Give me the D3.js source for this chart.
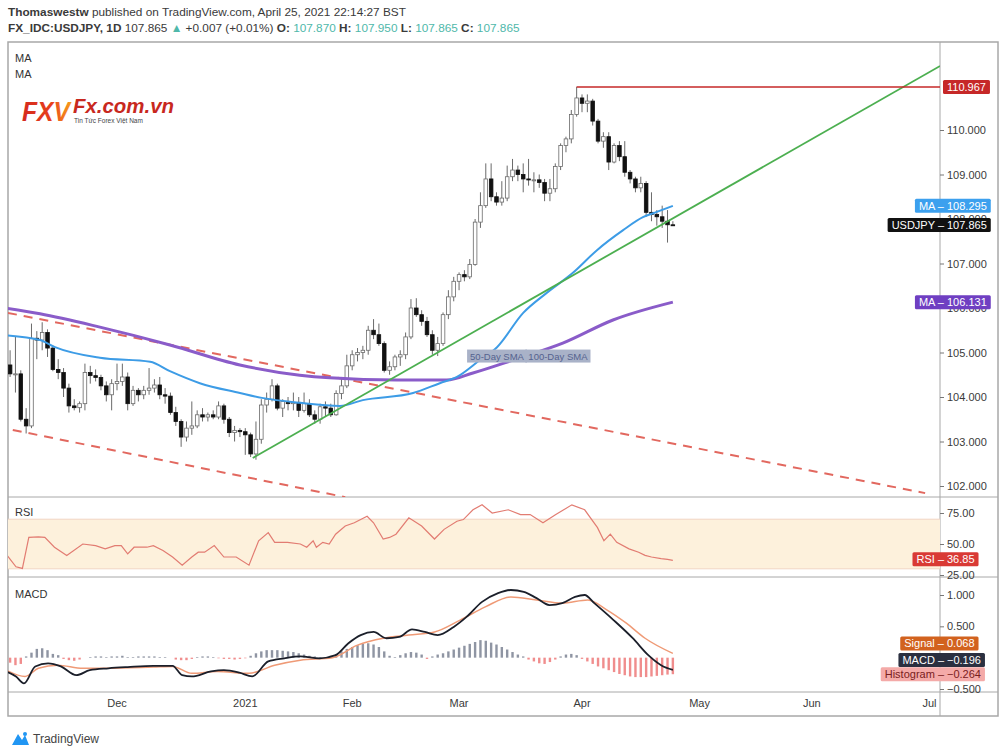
<!DOCTYPE html>
<html><head><meta charset="utf-8">
<script src="https://cdnjs.cloudflare.com/ajax/libs/d3/7.8.5/d3.min.js"></script>
<style>body{margin:0;background:#fff}svg{display:block}text{font-family:"Liberation Sans",Arial,sans-serif}</style>
</head><body><svg id="c" width="1000" height="754"></svg>
<script>
// ---------------- DATA ----------------
const opens=[104.70,104.72,104.52,104.52,103.50,103.35,105.32,105.28,105.45,105.10,104.62,104.55,104.20,103.80,103.76,103.85,104.55,104.48,104.44,104.25,104.05,104.30,104.35,104.45,103.85,104.15,104.05,104.15,104.20,104.27,104.05,104.02,103.65,103.45,103.10,103.30,103.35,103.60,103.55,103.60,103.55,103.80,103.50,103.20,103.25,103.22,103.15,102.72,103.05,103.82,103.95,104.25,103.75,103.90,103.85,103.88,103.70,103.85,103.60,103.50,103.78,103.75,103.60,104.08,104.25,104.70,104.95,105.00,105.05,105.50,105.40,105.20,104.60,104.68,104.90,104.95,105.35,106.00,105.85,105.70,105.40,105.05,105.20,105.85,106.25,106.60,106.75,106.70,106.98,107.93,108.30,108.90,108.50,108.38,108.47,108.95,109.10,109.00,108.90,108.88,108.88,108.82,108.58,108.68,109.18,109.65,109.80,110.35,110.72,110.60,110.65,110.20,109.75,109.85,109.28,109.65,109.40,109.05,108.90,108.70,108.80,108.15,108.10,108.05,107.95,107.870];
const highs=[104.95,105.05,105.35,104.60,103.75,105.65,105.48,105.68,105.52,105.15,104.85,104.65,104.30,103.95,103.90,104.75,104.70,104.62,104.50,104.35,104.40,104.75,104.75,104.55,104.25,104.20,104.25,104.65,104.40,104.45,104.20,104.10,103.78,103.50,103.45,103.90,103.70,103.75,103.65,103.70,103.90,103.85,103.55,103.35,103.30,103.30,103.20,103.45,103.95,104.10,104.40,104.30,103.95,104.00,104.10,104.00,104.10,103.95,103.70,103.85,103.90,103.85,104.15,104.45,104.95,105.05,105.10,105.15,105.60,105.75,105.65,105.25,104.80,104.95,105.05,105.45,106.20,106.22,105.95,105.80,105.50,105.35,105.90,106.40,106.70,106.80,106.85,107.10,108.00,108.60,109.25,109.25,108.60,108.85,109.20,109.35,109.20,109.25,109.35,109.05,109.00,108.90,108.90,109.25,109.70,109.85,110.45,110.97,110.80,110.80,110.70,110.25,109.95,109.95,109.70,109.75,109.75,109.10,108.95,108.95,108.85,108.60,108.20,108.30,108.20,107.950];
const lows=[104.45,104.45,104.10,103.45,103.18,103.30,104.85,105.05,104.90,104.58,104.40,104.00,103.65,103.70,103.65,103.70,104.30,104.35,104.15,103.90,103.70,104.15,104.25,103.70,103.80,103.90,103.95,104.05,104.10,103.95,103.85,103.60,103.35,102.88,103.00,103.15,103.30,103.45,103.45,103.50,103.50,103.40,103.10,103.00,103.10,102.70,102.65,102.59,102.95,103.65,103.90,103.70,103.55,103.70,103.70,103.55,103.65,103.55,103.40,103.40,103.55,103.55,103.58,103.95,104.20,104.60,104.80,104.85,104.95,105.30,105.15,104.55,104.50,104.60,104.70,104.85,105.30,105.80,105.60,105.35,104.95,104.92,105.15,105.75,106.15,106.40,106.60,106.65,106.95,107.80,108.25,108.40,108.30,108.30,108.40,108.85,108.85,108.60,108.75,108.60,108.70,108.40,108.40,108.60,109.10,109.50,109.70,110.30,110.40,110.40,110.10,109.70,109.60,109.10,109.25,109.30,108.95,108.80,108.60,108.60,108.05,107.95,107.85,107.80,107.47,107.865];
const closes=[104.72,104.52,104.52,103.50,103.35,105.32,105.28,105.45,105.10,104.62,104.55,104.20,103.80,103.76,103.85,104.55,104.48,104.44,104.25,104.05,104.30,104.35,104.45,103.85,104.15,104.05,104.15,104.20,104.27,104.05,104.02,103.65,103.45,103.10,103.30,103.35,103.60,103.55,103.60,103.55,103.80,103.50,103.20,103.25,103.22,103.15,102.72,103.05,103.82,103.95,104.25,103.75,103.90,103.85,103.88,103.70,103.85,103.60,103.50,103.78,103.75,103.60,104.08,104.25,104.70,104.95,105.00,105.05,105.50,105.40,105.20,104.60,104.68,104.90,104.95,105.35,106.00,105.85,105.70,105.40,105.05,105.20,105.85,106.25,106.60,106.75,106.70,106.98,107.93,108.30,108.90,108.50,108.38,108.47,108.95,109.10,109.00,108.90,108.88,108.88,108.82,108.58,108.68,109.18,109.65,109.80,110.35,110.72,110.60,110.65,110.20,109.75,109.85,109.28,109.65,109.40,109.05,108.90,108.70,108.80,108.15,108.10,108.05,107.95,107.87,107.865];

// 50-day SMA (blue) and 100-day SMA (purple), read at bar indices
const sma50Idx=[0,6.6,9.4,17.8,27.2,30.9,36.5,44,48.1,55.2,62.7,67,76.4,81.4,84.6,88.9,92.1,97,101.4,106.3,110.8,115.7,119.4,122,125];
const sma50Val=[105.39,105.28,105.12,104.88,104.79,104.58,104.31,104.09,103.98,103.87,103.80,103.93,104.09,104.31,104.45,104.83,105.12,105.89,106.34,106.79,107.30,107.75,108.04,108.16,108.295];
const sma100Idx=[0,6.6,17.8,30.9,44,55.2,60.8,73.4,82.7,87.6,95.1,104.4,113.8,125];
const sma100Val=[106.0,105.87,105.57,105.17,104.72,104.49,104.43,104.38,104.38,104.54,104.83,105.21,105.73,106.131];

// RSI (14), read at bar indices
const rsiIdx=[0.2,2.1,3.3,4.5,6.3,7.5,9.3,11.6,14.6,17,18.8,20.6,21.8,23,24.2,26.6,27.8,29.6,31.4,33.2,35,36.2,37.4,39.2,41,43.3,45.7,47.5,49.3,50.5,52.9,55.3,56.5,57.7,58.3,59.5,60.7,61.9,63.7,65.4,67.8,69,70.8,72,73.2,75.6,78,80.4,82.2,84.6,85.8,87.6,89.3,91.2,94.2,96.5,98.3,100.7,103.1,106.1,108.5,110.9,112.1,113.3,114.5,116.8,118.6,119.8,121,122.8,124,125];
const rsiVal=[42.1,31.6,30.3,55.3,55.8,55.3,47.4,40.8,50,48.7,46.1,48.7,48.7,42.1,47.4,47.4,48.7,44.7,39.5,32.9,39.5,43.4,43.4,48.7,39.5,39.5,32.9,52.6,59.2,51.3,51.3,50,47.4,52.6,47.4,51.3,50,57.9,64.5,67.1,72.4,67.1,54,55.3,57.9,71.1,64.5,54,61.8,68.4,69.7,77.6,81.6,75,77.6,73.7,73.7,67.1,73.7,81.6,77.6,63.2,52.6,57.9,51.3,46.1,43.4,40.8,39.5,38.2,37.6,36.85];

// MACD (12,26,9)
const macdIdx=[0.3,2.1,3.6,5.7,8.1,10.5,13.4,15.9,19.4,23,27.8,31.4,33.2,35,38.6,41,43.9,46.3,49.3,52.3,55.3,58.9,61.9,64.3,66.6,69,71.4,73.8,76.2,78.6,81,84,86.4,89.3,92.3,94.7,97.1,99.5,101.9,104.3,106.7,108.5,110.3,113.9,117.5,120.4,122.8,125];
const macdVal=[-0.22,-0.30,-0.41,-0.14,-0.09,-0.14,-0.28,-0.20,-0.17,-0.15,-0.13,-0.13,-0.28,-0.30,-0.22,-0.20,-0.24,-0.30,-0.06,-0.01,0.02,-0.01,0.04,0.23,0.36,0.41,0.31,0.33,0.45,0.41,0.36,0.49,0.65,0.89,1.03,1.08,1.05,0.95,0.84,0.87,0.97,1.00,0.87,0.60,0.31,0.04,-0.12,-0.196];
const signalIdx=[0.3,3.8,6.3,9.9,14.6,19.4,27.8,31.4,35,39.7,45.7,50.5,55.3,61.3,66,70.8,75.6,80.4,85.2,89.9,94.7,99.5,104.3,109.1,112.7,116.3,119.8,125];
const signalVal=[-0.20,-0.30,-0.17,-0.12,-0.17,-0.17,-0.15,-0.14,-0.25,-0.22,-0.25,-0.12,-0.04,0.00,0.20,0.31,0.36,0.41,0.60,0.81,0.97,0.92,0.87,0.92,0.76,0.55,0.31,0.068];
const histVal=[-0.03,-0.08,-0.12,-0.10,0.02,0.08,0.14,0.15,0.12,0.06,0.04,-0.02,-0.04,-0.05,-0.03,0.00,0.01,0.02,0.02,0.01,0.02,0.02,0.03,0.01,0.01,0.02,0.02,0.02,0.02,0.01,0.01,0.00,-0.03,-0.04,-0.04,-0.02,0.01,0.02,0.02,0.01,-0.01,-0.02,-0.02,-0.03,-0.02,-0.01,0.03,0.07,0.10,0.12,0.12,0.12,0.11,0.10,0.09,0.07,0.05,0.03,0.02,0.01,0.01,0.03,0.06,0.10,0.14,0.17,0.20,0.22,0.23,0.21,0.17,0.10,0.03,0.01,0.04,0.07,0.09,0.08,0.05,-0.02,0.02,0.05,0.07,0.10,0.13,0.16,0.19,0.22,0.25,0.28,0.27,0.24,0.21,0.17,0.13,0.09,0.05,0.02,-0.03,-0.06,-0.09,-0.10,-0.07,-0.03,0.02,0.05,0.06,0.04,-0.02,-0.06,-0.10,-0.14,-0.17,-0.20,-0.23,-0.26,-0.28,-0.30,-0.31,-0.31,-0.31,-0.30,-0.29,-0.28,-0.27,-0.264];

// Drawn trend lines: [bar index, price]
const channelUpper=[[0.6,105.89],[172.2,101.84]];
const channelLower=[[1.5,103.26],[63.7,101.75]];
const supportLine=[[46.4,102.63],[175,111.44]];
const highLevel=110.967, highIdx=107;

const priceTicks=[102,103,104,105,106,107,108,109,110];
const rsiTicks=[25,50,75];
const macdTicks=[-0.5,0.5,1.0];
const monthLabels=["Dec","2021","Feb","Mar","Apr","May","Jun","Jul"];
const monthDates=["2020-12-01","2021-01-04","2021-02-01","2021-03-01","2021-04-01","2021-05-03","2021-06-01","2021-07-01"];
const smaNotes=["50-Day SMA","100-Day SMA"];
const smaNoteIdx=[86.5,97.4];
const smaNotePrice=[104.92,104.92];
const lastPrice=107.865, lastSma50=108.295, lastSma100=106.131, lastRsi=36.85, lastSignal=0.068, lastMacd=-0.196, lastHist=-0.264;

// ---------------- LAYOUT ----------------
const svg=d3.select("#c");
svg.append("rect").attr("width",1000).attr("height",754).attr("fill","#fff");
const L=8, R=940, RE=998, T=42, mainB=497, rsiB=577, macdB=692, axB=716;

// weekday bar calendar
const dates=[];
for(let t=Date.UTC(2020,10,2); t<=Date.UTC(2021,6,30); t+=864e5){const d=new Date(t);const w=d.getUTCDay();if(w>0&&w<6)dates.push(d.toISOString().slice(0,10));}

const x=d3.scaleLinear().domain([21,108]).range([117,582]);
const y=d3.scaleLinear().domain([102,110]).range([486,130]);
const yR=d3.scaleLinear().domain([25,75]).range([575,513]);
const yM=d3.scaleLinear().domain([-0.5,1]).range([689,595]);

const defs=svg.append("defs");
[["cMain",T,mainB],["cRsi",mainB,rsiB],["cMacd",rsiB,macdB]].forEach(([id,a,b])=>{
  defs.append("clipPath").attr("id",id).append("rect").attr("x",L).attr("y",a).attr("width",R-L).attr("height",b-a);
});
const grad=defs.append("linearGradient").attr("id","lg").attr("x1","0").attr("x2","1");
grad.append("stop").attr("offset","0").attr("stop-color","#d42a1e");
grad.append("stop").attr("offset","0.6").attr("stop-color","#e8401c");
grad.append("stop").attr("offset","1").attr("stop-color","#f7a21b");

// header
const h1=svg.append("text").attr("x",8).attr("y",16).attr("font-size",11.8).attr("fill","#3a3a3a");
h1.append("tspan").attr("font-weight","bold").text("Thomaswestw");
h1.append("tspan").text(" published on TradingView.com, April 25, 2021 22:14:27 BST");
const teal="#4fb8aa";
const h2=svg.append("text").attr("x",8).attr("y",32).attr("font-size",11.8).attr("fill","#3a3a3a");
h2.append("tspan").attr("font-weight","bold").text("FX_IDC:USDJPY, 1D");
h2.append("tspan").text(" 107.865 ");
h2.append("tspan").attr("fill",teal).text("▲");
h2.append("tspan").text(" +0.007 (+0.01%) ");
[["O:","107.870"],["H:","107.950"],["L:","107.865"],["C:","107.865"]].forEach(([k,v],i)=>{
  h2.append("tspan").attr("font-weight","bold").text((i?" ":"")+k+" ");
  h2.append("tspan").attr("fill",teal).text(v);
});

// frame & separators
const frame=svg.append("g").attr("stroke","#a8a8a8").attr("fill","none");
frame.append("rect").attr("x",L).attr("y",T).attr("width",RE-L).attr("height",axB-T).attr("stroke-width",1.5);
frame.append("line").attr("x1",R).attr("x2",R).attr("y1",T).attr("y2",axB);
[mainB,rsiB,macdB].forEach(v=>frame.append("line").attr("x1",L).attr("x2",RE).attr("y1",v).attr("y2",v));

// ---------------- MAIN PANE ----------------
const gMain=svg.append("g").attr("clip-path","url(#cMain)");
const seg=d3.line().x(d=>x(d[0])).y(d=>y(d[1]));
gMain.append("path").attr("d",seg(channelUpper)).attr("stroke","#e2685f").attr("stroke-width",2).attr("stroke-dasharray","9,7").attr("fill","none");
gMain.append("path").attr("d",seg(channelLower)).attr("stroke","#e2685f").attr("stroke-width",2).attr("stroke-dasharray","9,7").attr("fill","none");

const bars=d3.range(opens.length).map(i=>({i,o:opens[i],h:highs[i],l:lows[i],c:closes[i]}));
const gc=gMain.append("g");
gc.selectAll("line").data(bars).join("line")
  .attr("x1",d=>x(d.i)).attr("x2",d=>x(d.i)).attr("y1",d=>y(d.h)).attr("y2",d=>y(d.l))
  .attr("stroke","#6a6a6a").attr("stroke-width",1);
gc.selectAll("rect").data(bars).join("rect")
  .attr("x",d=>x(d.i)-1.8).attr("width",3.6)
  .attr("y",d=>y(Math.max(d.o,d.c))).attr("height",d=>Math.max(1,Math.abs(y(d.o)-y(d.c))))
  .attr("fill",d=>d.c>=d.o?"#fff":"#111").attr("stroke",d=>d.c>=d.o?"#6a6a6a":"#111").attr("stroke-width",0.8);

const maLine=d3.line().x(d=>x(d[0])).y(d=>y(d[1])).curve(d3.curveMonotoneX);
gMain.append("path").attr("d",maLine(d3.zip(sma100Idx,sma100Val))).attr("stroke","#8a5cc9").attr("stroke-width",3).attr("fill","none");
gMain.append("path").attr("d",maLine(d3.zip(sma50Idx,sma50Val))).attr("stroke","#3d9ce6").attr("stroke-width",2).attr("fill","none");
gMain.append("path").attr("d",seg(supportLine)).attr("stroke","#4caf50").attr("stroke-width",1.8).attr("fill","none");
gMain.append("line").attr("x1",x(highIdx)).attr("x2",R).attr("y1",y(highLevel)).attr("y2",y(highLevel)).attr("stroke","#c62828").attr("stroke-width",1.6);

// SMA notes
smaNotes.forEach((t,k)=>{
  const g=svg.append("g");
  const tx=g.append("text").attr("x",x(smaNoteIdx[k])+3).attr("y",y(smaNotePrice[k])+3.5).attr("font-size",9.5).attr("fill","#55628f").text(t);
  const w=tx.node().getComputedTextLength();
  g.insert("rect","text").attr("x",x(smaNoteIdx[k])).attr("y",y(smaNotePrice[k])-6.5).attr("width",w+6).attr("height",13).attr("fill","#a9b2c8");
});

// logo
svg.append("text").attr("x",22).attr("y",121).attr("font-family","DejaVu Sans").attr("font-weight","bold").attr("font-style","italic")
  .attr("font-size",27).attr("textLength",48).attr("lengthAdjust","spacingAndGlyphs").attr("fill","url(#lg)").text("FXV");
svg.append("text").attr("x",73).attr("y",113).attr("font-family","DejaVu Sans").attr("font-weight","bold").attr("font-style","italic")
  .attr("font-size",20).attr("textLength",101).attr("lengthAdjust","spacingAndGlyphs").attr("fill","#c8281e").text("Fx.com.vn");
svg.append("text").attr("x",74).attr("y",123).attr("font-size",6.5).attr("fill","#444").text("Tin Tức Forex Việt Nam");

// top labels
svg.append("text").attr("x",15).attr("y",62).attr("font-size",11).attr("fill","#333").text("MA");
svg.append("text").attr("x",15).attr("y",78).attr("font-size",11).attr("fill","#333").text("MA");

// price axis
const axStyle=g=>{g.select(".domain").remove();g.selectAll(".tick line").attr("stroke","#777");g.selectAll(".tick text").attr("fill","#3a3a3a").attr("font-size",11).attr("font-family","Liberation Sans, Arial, sans-serif");};
svg.append("g").attr("transform",`translate(${R},0)`).call(d3.axisRight(y).tickValues(priceTicks).tickSize(4).tickPadding(3).tickFormat(d3.format(".3f"))).call(axStyle);
svg.append("g").attr("transform",`translate(${R},0)`).call(d3.axisRight(yR).tickValues(rsiTicks).tickSize(4).tickPadding(3).tickFormat(d3.format(".2f"))).call(axStyle);
svg.append("g").attr("transform",`translate(${R},0)`).call(d3.axisRight(yM).tickValues(macdTicks).tickSize(4).tickPadding(3).tickFormat(d=>d3.format(".3f")(d).replace("-","−"))).call(axStyle);

// value tags
function tag(yc,name,val,fill,fg){
  const g=svg.append("g");
  const vt=g.append("text").attr("x",947).attr("y",yc+4).attr("font-size",11).attr("fill",fg).text(val);
  const vw=vt.node().getComputedTextLength();
  let left=943;
  if(name){const nt=g.append("text").attr("x",944).attr("y",yc+4).attr("text-anchor","end").attr("font-size",11).attr("fill",fg).text(name+" – ");left=944-nt.node().getComputedTextLength()-4;}
  g.insert("rect","text").attr("x",left).attr("y",yc-7).attr("width",947+vw+4-left).attr("height",14).attr("rx",1.5).attr("fill",fill);
}
tag(y(highLevel),"",d3.format(".3f")(highLevel),"#c62828","#fff");
tag(y(lastSma50),"MA",d3.format(".3f")(lastSma50),"#3ca0ee","#fff");
tag(y(lastPrice),"USDJPY",d3.format(".3f")(lastPrice),"#111","#fff");
tag(y(lastSma100),"MA",d3.format(".3f")(lastSma100),"#6f3fc2","#fff");

// ---------------- RSI ----------------
const gR=svg.append("g").attr("clip-path","url(#cRsi)");
gR.append("rect").attr("x",L).attr("width",R-L).attr("y",yR(70)).attr("height",yR(30)-yR(70)).attr("fill","#fdf1dc");
gR.append("line").attr("x1",L).attr("x2",R).attr("y1",yR(70)).attr("y2",yR(70)).attr("stroke","#f1d6c4").attr("stroke-width",1);
gR.append("line").attr("x1",L).attr("x2",R).attr("y1",yR(30)).attr("y2",yR(30)).attr("stroke","#f1d6c4").attr("stroke-width",1);
gR.append("path").attr("d",d3.line().x(d=>x(d[0])).y(d=>yR(d[1]))(d3.zip(rsiIdx,rsiVal))).attr("stroke","#e27c72").attr("stroke-width",1.2).attr("fill","none");
svg.append("text").attr("x",15).attr("y",516).attr("font-size",11).attr("fill","#333").text("RSI");
tag(yR(lastRsi)-1,"RSI",d3.format(".2f")(lastRsi),"#d93a35","#fff");

// ---------------- MACD ----------------
const gM=svg.append("g").attr("clip-path","url(#cMacd)");
gM.selectAll("rect").data(histVal).join("rect")
  .attr("x",(d,i)=>x(i)-1.2).attr("width",2.4)
  .attr("y",d=>yM(Math.max(0,d))).attr("height",d=>Math.abs(yM(d)-yM(0)))
  .attr("fill",d=>d>=0?"#8f95a3":"#f08d8d");
const mLine=d3.line().x(d=>x(d[0])).y(d=>yM(d[1])).curve(d3.curveMonotoneX);
gM.append("path").attr("d",mLine(d3.zip(signalIdx,signalVal))).attr("stroke","#ef9a76").attr("stroke-width",1.5).attr("fill","none");
gM.append("path").attr("d",mLine(d3.zip(macdIdx,macdVal))).attr("stroke","#1b1f2a").attr("stroke-width",1.8).attr("fill","none");
svg.append("text").attr("x",15).attr("y",598).attr("font-size",11).attr("fill","#333").text("MACD");
const fm=v=>d3.format(".3f")(v);
tag(yM(lastSignal)-10,"Signal",fm(lastSignal),"#d2621e","#fff");
tag(yM(lastMacd)-10,"MACD",fm(lastMacd),"#2b3040","#fff");
tag(yM(lastHist)-0,"Histogram",fm(lastHist),"#f4aaa8","#7a2020");

// ---------------- TIME AXIS ----------------
const tickIdx=monthDates.map(d=>dates.indexOf(d));
svg.append("g").selectAll("text").data(monthLabels).join("text")
  .attr("x",(d,k)=>x(tickIdx[k])).attr("y",707).attr("text-anchor","middle").attr("font-size",11).attr("fill","#3a3a3a").text(d=>d);

// TradingView footer
const tv=svg.append("g").attr("transform","translate(12,731)");
tv.append("path").attr("d","M0,14 L6,3 L10,9 L13,4 L17,14 Z").attr("fill","#2196f3");
tv.append("circle").attr("cx",13).attr("cy",3).attr("r",2).attr("fill","#2196f3");
svg.append("text").attr("x",33).attr("y",743).attr("font-size",12).attr("fill","#444").text("TradingView");
</script></body></html>
